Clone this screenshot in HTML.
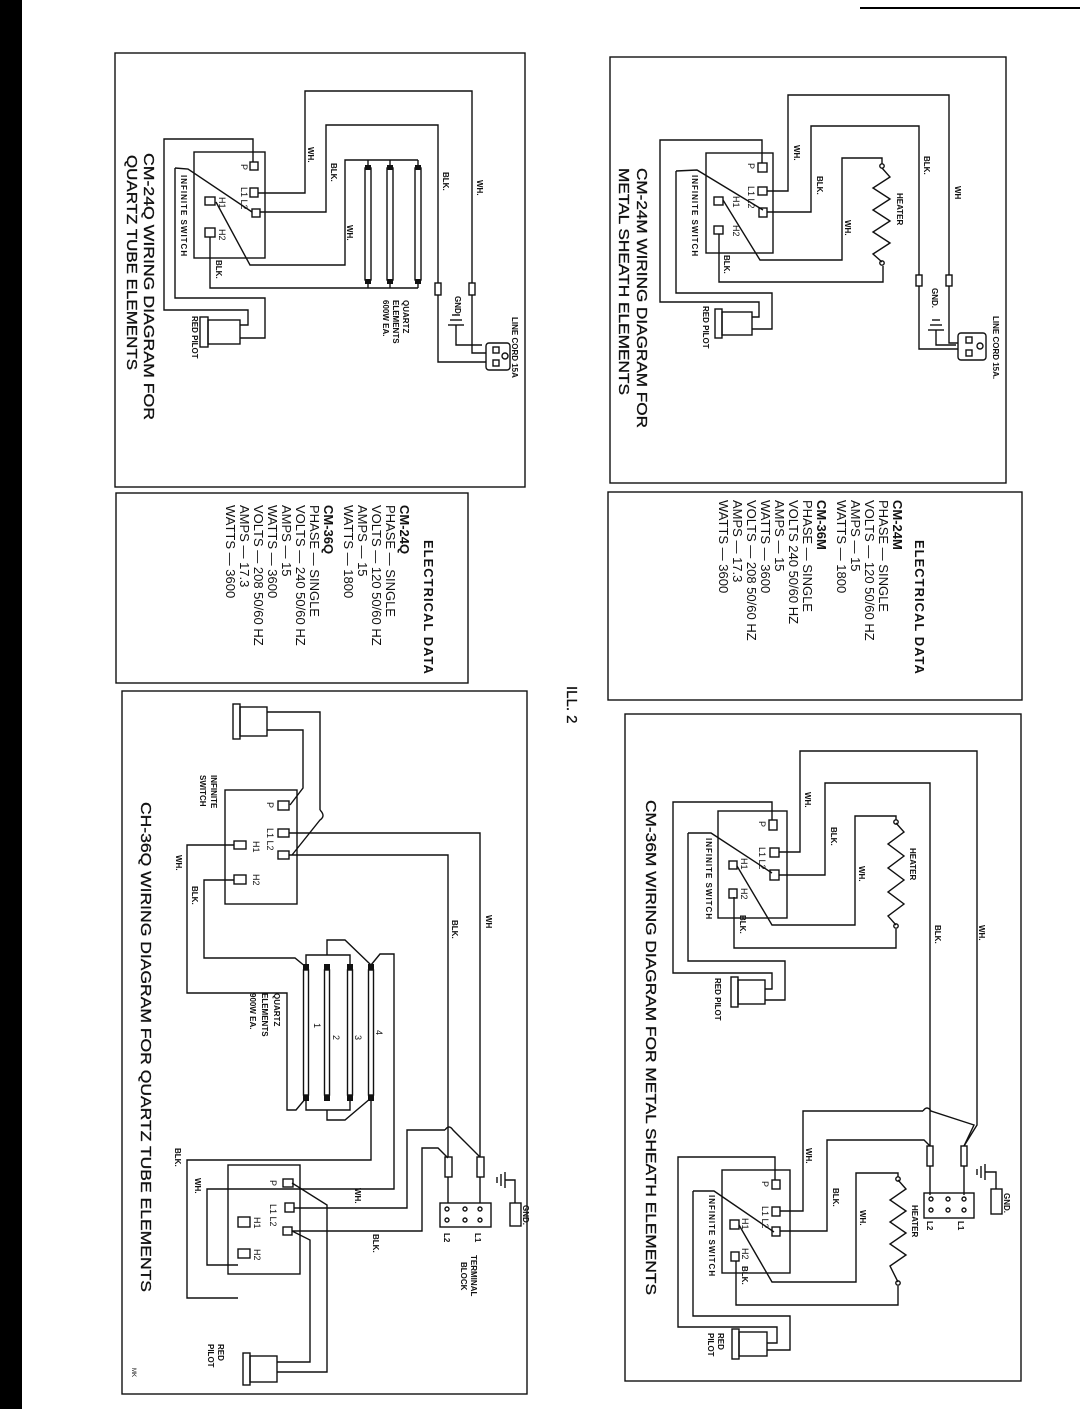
<!DOCTYPE html>
<html><head><meta charset="utf-8"><style>
html,body{margin:0;padding:0;background:#fff}
svg{display:block}
text{font-family:"Liberation Sans",sans-serif;fill:#111}
.s{font-size:8px;font-weight:bold}
.m{font-size:9px}
.d{font-size:13px}
.b{font-size:13px;font-weight:bold}
.t{font-size:15px;stroke:#111;stroke-width:0.3}
</style></head><body>
<svg width="1080" height="1409" viewBox="0 0 1080 1409" xmlns="http://www.w3.org/2000/svg">
<rect x="0" y="0" width="22" height="1409" fill="#000"/>
<line x1="860" y1="8" x2="1080" y2="8" stroke="#000" stroke-width="2"/>
<g fill="none" stroke="#111" stroke-width="1.4">
<rect x="115" y="53" width="410" height="434"/>
<rect x="610" y="57" width="396" height="426"/>
<rect x="116" y="493" width="352" height="190"/>
<rect x="608" y="492" width="414" height="208"/>
<rect x="122" y="691" width="405" height="703"/>
<rect x="625" y="714" width="396" height="667"/>

<rect x="194" y="152" width="71" height="106"/>
<rect x="250" y="162" width="8" height="8"/><rect x="250" y="188" width="8" height="9"/><rect x="252" y="209" width="8" height="8"/>
<rect x="205" y="197" width="10" height="8"/><rect x="205" y="228" width="10" height="9"/>
<polyline points="258,193 305,193 305,91 472,91 472,283"/><rect x="469" y="283" width="6" height="12"/><polyline points="472,295 472,353 486,353"/>
<polyline points="260,212 326,212 326,125 438,125 438,283"/><rect x="435" y="283" width="6" height="12"/><polyline points="438,295 438,362 486,362"/>
<polyline points="175,168 188,169 252,212"/>
<polyline points="175,168 175,298 265,298 265,338 240,338"/>
<polyline points="253,162 253,139 164,139 164,310 248,310 248,325 240,325"/>
<polyline points="216,202 250,265 345,265 345,160 418,160"/>
<polyline points="210,237 210,288 418,288"/>
<line x1="368" y1="160" x2="368" y2="288"/><line x1="390" y1="160" x2="390" y2="288"/><line x1="418" y1="160" x2="418" y2="288"/>
<rect x="365" y="168" width="6" height="112" fill="#fff"/><rect x="387" y="168" width="6" height="112" fill="#fff"/><rect x="415" y="168" width="6" height="112" fill="#fff"/>
<polyline points="456,325 456,345 482,345"/>
<line x1="448" y1="325" x2="464" y2="325"/><line x1="450" y1="320" x2="462" y2="320"/><line x1="452" y1="315" x2="460" y2="315"/>
<rect x="486" y="343" width="24" height="27" rx="3"/><rect x="493" y="347" width="6" height="6"/><rect x="493" y="360" width="6" height="6"/><circle cx="505" cy="356" r="3"/>
<rect x="208" y="320" width="32" height="24"/><rect x="200" y="317" width="8" height="30"/>

<rect x="706" y="153" width="67" height="100"/>
<rect x="758" y="163" width="9" height="9"/><rect x="758" y="187" width="9" height="8"/><rect x="759" y="208" width="8" height="9"/>
<rect x="714" y="197" width="9" height="8"/><rect x="714" y="226" width="9" height="8"/>
<polyline points="767,191 788,191 788,95 949,95 949,275"/><rect x="946" y="275" width="6" height="11"/><polyline points="949,286 949,343 958,343"/>
<polyline points="767,212 811,212 811,126 919,126 919,275"/><rect x="916" y="275" width="6" height="11"/><polyline points="919,286 919,349 958,349"/>
<polyline points="882,168 890,177 873,188 890,199 873,210 890,221 873,232 890,243 873,254 882,262"/>
<circle cx="882" cy="166" r="2.2"/><circle cx="882" cy="263" r="2.2"/>
<polyline points="723,200 760,260 842,260 842,158 882,158 882,164"/>
<polyline points="719,234 719,282 883,282 883,266"/>
<polyline points="676,171 697,170 763,210"/>
<polyline points="676,171 676,293 772,293 772,329 752,329"/>
<polyline points="762,163 762,140 660,140 660,302 759,302 759,317 752,317"/>
<rect x="722" y="312" width="30" height="23"/><rect x="715" y="309" width="7" height="29"/>
<polyline points="936,330 936,345 956,345"/>
<line x1="928" y1="330" x2="944" y2="330"/><line x1="930" y1="325" x2="942" y2="325"/><line x1="932" y1="320" x2="940" y2="320"/>
<rect x="958" y="333" width="28" height="27" rx="3"/><rect x="966" y="337" width="6" height="6"/><rect x="966" y="350" width="6" height="6"/><circle cx="980" cy="346" r="3"/>

<rect x="718" y="811" width="69" height="107"/>
<rect x="769" y="820" width="8" height="10"/><rect x="770" y="848" width="9" height="9"/><rect x="770" y="870" width="9" height="10"/>
<rect x="729" y="861" width="8" height="8"/><rect x="729" y="889" width="8" height="9"/>
<polyline points="779,852 800,852 800,751 977,751 977,1125 964,1146"/>
<polyline points="779,875 825,875 825,783 930,783 930,1146"/>
<rect x="961" y="1146" width="6" height="20"/><rect x="927" y="1146" width="6" height="20"/>
<line x1="964" y1="1166" x2="964" y2="1195"/><line x1="930" y1="1166" x2="930" y2="1195"/>
<polyline points="896,823 904,832 888,844 904,856 888,868 904,880 888,892 904,904 888,916 896,925"/>
<circle cx="896" cy="822" r="2.2"/><circle cx="896" cy="926" r="2.2"/>
<polyline points="737,866 772,925 855,925 855,816 896,816 896,820"/>
<polyline points="734,897 734,948 896,948 896,929"/>
<polyline points="688,833 711,833 772,873"/>
<polyline points="688,833 688,961 785,961 785,1000 765,1000"/>
<polyline points="772,820 772,802 673,802 673,973 772,973 772,989 765,989"/>
<rect x="738" y="980" width="27" height="24"/><rect x="731" y="977" width="7" height="30"/>
<rect x="722" y="1170" width="68" height="103"/>
<rect x="772" y="1180" width="8" height="9"/><rect x="772" y="1207" width="8" height="9"/><rect x="772" y="1227" width="8" height="9"/>
<rect x="730" y="1220" width="9" height="9"/><rect x="731" y="1252" width="8" height="9"/>
<polyline points="780,1211 803,1211 803,1111 923,1111"/><path d="M923,1111 q4,-6 8,0 L974,1125 964,1146"/>
<polyline points="780,1231 827,1231 827,1140 924,1140 930,1146"/>
<polyline points="898,1180 906,1189 890,1200 906,1211 890,1222 906,1233 890,1244 906,1255 890,1266 898,1282"/>
<circle cx="898" cy="1179" r="2.2"/><circle cx="898" cy="1283" r="2.2"/>
<polyline points="739,1225 772,1282 856,1282 856,1173 898,1173 898,1177"/>
<polyline points="736,1261 736,1305 898,1305 898,1286"/>
<polyline points="693,1191 714,1191 774,1232"/>
<polyline points="693,1191 693,1316 790,1316 790,1350 767,1350"/>
<polyline points="775,1180 775,1157 678,1157 678,1327 777,1327 777,1343 767,1343"/>
<rect x="739" y="1332" width="28" height="24"/><rect x="732" y="1329" width="7" height="30"/>
<rect x="924" y="1193" width="50" height="25"/>
<circle cx="931" cy="1199" r="2"/><circle cx="948" cy="1199" r="2"/><circle cx="964" cy="1199" r="2"/>
<circle cx="931" cy="1210" r="2"/><circle cx="948" cy="1210" r="2"/><circle cx="964" cy="1210" r="2"/>
<rect x="991" y="1189" width="11" height="25"/>
<polyline points="996,1189 996,1172 985,1172"/>
<line x1="985" y1="1164" x2="985" y2="1180"/><line x1="981" y1="1166" x2="981" y2="1178"/><line x1="977" y1="1169" x2="977" y2="1175"/>

<rect x="225" y="790" width="72" height="114"/>
<rect x="278" y="801" width="11" height="9"/><rect x="278" y="829" width="11" height="8"/><rect x="278" y="851" width="11" height="8"/>
<rect x="234" y="841" width="12" height="8"/><rect x="234" y="875" width="12" height="9"/>
<rect x="240" y="707" width="27" height="29"/><rect x="233" y="704" width="7" height="35"/>
<polyline points="267,712 320,712 320,810"/><path d="M320,810 q6,6 0,10 L292,855"/>
<polyline points="267,730 303,730 303,788 290,805"/>
<polyline points="289,833 480,833 480,1157"/>
<polyline points="289,855 448,855 448,1157"/>
<rect x="477" y="1157" width="7" height="20"/><rect x="445" y="1157" width="7" height="20"/>
<line x1="480" y1="1177" x2="480" y2="1203"/><line x1="448" y1="1177" x2="448" y2="1203"/>
<polyline points="234,845 187,845 187,993 287,993 287,1110 296,1110 306,1098"/>
<polyline points="234,880 204,880 204,958 295,958 306,967"/>
<line x1="306" y1="967" x2="306" y2="1098"/><line x1="327" y1="967" x2="327" y2="1098"/><line x1="350" y1="967" x2="350" y2="1098"/><line x1="371" y1="967" x2="371" y2="1098"/>
<rect x="303.5" y="970" width="5" height="125" fill="#fff"/><rect x="324.5" y="970" width="5" height="125" fill="#fff"/><rect x="347.5" y="970" width="5" height="125" fill="#fff"/><rect x="368.5" y="970" width="5" height="125" fill="#fff"/>
<polyline points="306,967 306,955 350,955 350,967"/><polyline points="327,955 327,940 345,940 371,965"/>
<polyline points="371,965 380,954 394,954 394,1189 207,1189 207,1265 238,1265"/>
<polyline points="306,1098 306,1110 350,1110 350,1098"/><polyline points="327,1110 327,1120 345,1120 371,1098"/>
<polyline points="371,1098 371,1160 187,1160 187,1298 238,1298"/>
<rect x="228" y="1165" width="72" height="109"/>
<rect x="283" y="1179" width="10" height="8"/><rect x="285" y="1203" width="9" height="9"/><rect x="283" y="1227" width="9" height="8"/>
<rect x="238" y="1217" width="12" height="10"/><rect x="238" y="1249" width="12" height="9"/>
<polyline points="294,1208 407,1208 407,1130 445,1130"/><path d="M445,1130 q4,-6 8,0 L480,1157"/>
<polyline points="292,1231 422,1231 422,1148 438,1148 448,1158"/>
<polyline points="292,1183 327,1205 327,1372 277,1372"/>
<polyline points="292,1231 310,1240 310,1362 277,1362"/>
<rect x="250" y="1356" width="27" height="26"/><rect x="243" y="1353" width="7" height="32"/>
<rect x="440" y="1203" width="51" height="24"/>
<circle cx="447" cy="1209" r="2"/><circle cx="465" cy="1209" r="2"/><circle cx="480" cy="1209" r="2"/>
<circle cx="447" cy="1220" r="2"/><circle cx="465" cy="1220" r="2"/><circle cx="480" cy="1220" r="2"/>
<rect x="510" y="1203" width="11" height="23"/>
<polyline points="515,1203 515,1180 505,1180"/>
<line x1="505" y1="1172" x2="505" y2="1188"/><line x1="501" y1="1174" x2="501" y2="1186"/><line x1="497" y1="1177" x2="497" y2="1183"/>
</g>
<g fill="#111">
<rect x="303" y="964" width="6" height="6"/><rect x="324" y="964" width="6" height="6"/><rect x="347" y="964" width="6" height="6"/><rect x="368" y="964" width="6" height="6"/>
<rect x="303" y="1095" width="6" height="6"/><rect x="324" y="1095" width="6" height="6"/><rect x="347" y="1095" width="6" height="6"/><rect x="368" y="1095" width="6" height="6"/>
<rect x="365" y="165" width="6" height="5"/><rect x="387" y="165" width="6" height="5"/><rect x="415" y="165" width="6" height="5"/>
<rect x="365" y="279" width="6" height="5"/><rect x="387" y="279" width="6" height="5"/><rect x="415" y="279" width="6" height="5"/>
</g>

<g>
<text class="t" transform="translate(144,153) rotate(90)" textLength="267" lengthAdjust="spacingAndGlyphs">CM-24Q WIRING DIAGRAM FOR</text>
<text class="t" transform="translate(127,155) rotate(90)" textLength="215" lengthAdjust="spacingAndGlyphs">QUARTZ TUBE ELEMENTS</text>
<text class="s" transform="translate(308,147) rotate(90)">WH.</text>
<text class="s" transform="translate(331,163) rotate(90)">BLK.</text>
<text class="s" transform="translate(347,225) rotate(90)">WH.</text>
<text class="s" transform="translate(443,172) rotate(90)">BLK.</text>
<text class="s" transform="translate(477,180) rotate(90)">WH.</text>
<text class="s" transform="translate(216,260) rotate(90)">BLK.</text>
<text class="s" transform="translate(181,175) rotate(90)" letter-spacing="1">INFINITE SWITCH</text>
<text class="m" transform="translate(241,164) rotate(90)">P</text>
<text class="m" transform="translate(241,187) rotate(90)">L1 L2</text>
<text class="m" transform="translate(219,197) rotate(90)">H1</text>
<text class="m" transform="translate(219,229) rotate(90)">H2</text>
<text class="s" transform="translate(403,300) rotate(90)">QUARTZ</text>
<text class="s" transform="translate(393,300) rotate(90)">ELEMENTS</text>
<text class="s" transform="translate(383,300) rotate(90)">600W EA.</text>
<text class="s" transform="translate(512,317) rotate(90)">LINE CORD 15A</text>
<text class="s" transform="translate(455,296) rotate(90)">GND.</text>
<text class="s" transform="translate(192,316) rotate(90)">RED PILOT</text>
<text class="t" transform="translate(637,168) rotate(90)" textLength="260" lengthAdjust="spacingAndGlyphs">CM-24M WIRING DIAGRAM FOR</text>
<text class="t" transform="translate(619,168) rotate(90)" textLength="227" lengthAdjust="spacingAndGlyphs">METAL SHEATH ELEMENTS</text>
<text class="s" transform="translate(794,145) rotate(90)">WH.</text>
<text class="s" transform="translate(817,176) rotate(90)">BLK.</text>
<text class="s" transform="translate(845,220) rotate(90)">WH.</text>
<text class="s" transform="translate(897,193) rotate(90)">HEATER</text>
<text class="s" transform="translate(924,156) rotate(90)">BLK.</text>
<text class="s" transform="translate(955,186) rotate(90)">WH</text>
<text class="s" transform="translate(993,316) rotate(90)">LINE CORD 15A.</text>
<text class="s" transform="translate(932,288) rotate(90)">GND.</text>
<text class="s" transform="translate(703,306) rotate(90)">RED PILOT</text>
<text class="s" transform="translate(692,175) rotate(90)" letter-spacing="1">INFINITE SWITCH</text>
<text class="s" transform="translate(724,255) rotate(90)">BLK.</text>
<text class="m" transform="translate(748,163) rotate(90)">P</text>
<text class="m" transform="translate(748,186) rotate(90)">L1 L2</text>
<text class="m" transform="translate(733,196) rotate(90)">H1</text>
<text class="m" transform="translate(733,225) rotate(90)">H2</text>
<text class="b" transform="translate(424,540) rotate(90)" letter-spacing="1">ELECTRICAL DATA</text>
<text class="b" transform="translate(400,505) rotate(90)">CM-24Q</text>
<text class="d" transform="translate(386,505) rotate(90)">PHASE — SINGLE</text>
<text class="d" transform="translate(372,505) rotate(90)">VOLTS — 120 50/60 HZ</text>
<text class="d" transform="translate(358,505) rotate(90)">AMPS — 15</text>
<text class="d" transform="translate(344,505) rotate(90)">WATTS — 1800</text>
<text class="b" transform="translate(324,505) rotate(90)">CM-36Q</text>
<text class="d" transform="translate(310,505) rotate(90)">PHASE — SINGLE</text>
<text class="d" transform="translate(296,505) rotate(90)">VOLTS — 240 50/60 HZ</text>
<text class="d" transform="translate(282,505) rotate(90)">AMPS — 15</text>
<text class="d" transform="translate(268,505) rotate(90)">WATTS — 3600</text>
<text class="d" transform="translate(254,505) rotate(90)">VOLTS — 208 50/60 HZ</text>
<text class="d" transform="translate(240,505) rotate(90)">AMPS — 17.3</text>
<text class="d" transform="translate(226,505) rotate(90)">WATTS — 3600</text>
<text class="b" transform="translate(915,540) rotate(90)" letter-spacing="1">ELECTRICAL DATA</text>
<text class="b" transform="translate(893,500) rotate(90)">CM-24M</text>
<text class="d" transform="translate(879,500) rotate(90)">PHASE — SINGLE</text>
<text class="d" transform="translate(865,500) rotate(90)">VOLTS — 120 50/60 HZ</text>
<text class="d" transform="translate(851,500) rotate(90)">AMPS — 15</text>
<text class="d" transform="translate(837,500) rotate(90)">WATTS — 1800</text>
<text class="b" transform="translate(817,500) rotate(90)">CM-36M</text>
<text class="d" transform="translate(803,500) rotate(90)">PHASE — SINGLE</text>
<text class="d" transform="translate(789,500) rotate(90)">VOLTS 240 50/60 HZ</text>
<text class="d" transform="translate(775,500) rotate(90)">AMPS — 15</text>
<text class="d" transform="translate(761,500) rotate(90)">WATTS — 3600</text>
<text class="d" transform="translate(747,500) rotate(90)">VOLTS — 208 50/60 HZ</text>
<text class="d" transform="translate(733,500) rotate(90)">AMPS — 17.3</text>
<text class="d" transform="translate(719,500) rotate(90)">WATTS — 3600</text>
<text class="t" transform="translate(567,686) rotate(90)">ILL. 2</text>
<text class="t" transform="translate(646,800) rotate(90)" textLength="495" lengthAdjust="spacingAndGlyphs">CM-36M WIRING DIAGRAM FOR METAL SHEATH ELEMENTS</text>
<text class="s" transform="translate(805,792) rotate(90)">WH.</text>
<text class="s" transform="translate(831,827) rotate(90)">BLK.</text>
<text class="s" transform="translate(859,866) rotate(90)">WH.</text>
<text class="s" transform="translate(910,848) rotate(90)">HEATER</text>
<text class="s" transform="translate(935,925) rotate(90)">BLK.</text>
<text class="s" transform="translate(979,925) rotate(90)">WH.</text>
<text class="s" transform="translate(706,838) rotate(90)" letter-spacing="1">INFINITE SWITCH</text>
<text class="s" transform="translate(715,978) rotate(90)">RED PILOT</text>
<text class="m" transform="translate(759,821) rotate(90)">P</text>
<text class="m" transform="translate(759,847) rotate(90)">L1 L2</text>
<text class="m" transform="translate(741,858) rotate(90)">H1</text>
<text class="m" transform="translate(741,888) rotate(90)">H2</text>
<text class="s" transform="translate(740,915) rotate(90)">BLK.</text>
<text class="s" transform="translate(806,1148) rotate(90)">WH.</text>
<text class="s" transform="translate(833,1188) rotate(90)">BLK.</text>
<text class="s" transform="translate(860,1210) rotate(90)">WH.</text>
<text class="s" transform="translate(912,1205) rotate(90)">HEATER</text>
<text class="s" transform="translate(927,1221) rotate(90)">L2</text>
<text class="s" transform="translate(958,1221) rotate(90)">L1</text>
<text class="s" transform="translate(1004,1193) rotate(90)">GND.</text>
<text class="s" transform="translate(709,1195) rotate(90)" letter-spacing="1">INFINITE SWITCH</text>
<text class="s" transform="translate(718,1333) rotate(90)">RED</text>
<text class="s" transform="translate(708,1333) rotate(90)">PILOT</text>
<text class="m" transform="translate(762,1181) rotate(90)">P</text>
<text class="m" transform="translate(762,1206) rotate(90)">L1 L2</text>
<text class="m" transform="translate(742,1218) rotate(90)">H1</text>
<text class="m" transform="translate(742,1248) rotate(90)">H2</text>
<text class="s" transform="translate(742,1266) rotate(90)">BLK.</text>
<text class="t" transform="translate(141,802) rotate(90)" textLength="490" lengthAdjust="spacingAndGlyphs">CH-36Q WIRING DIAGRAM FOR QUARTZ TUBE ELEMENTS</text>
<text class="s" transform="translate(211,775) rotate(90)">INFINITE</text>
<text class="s" transform="translate(200,775) rotate(90)">SWITCH</text>
<text class="m" transform="translate(267,802) rotate(90)">P</text>
<text class="m" transform="translate(267,828) rotate(90)">L1 L2</text>
<text class="m" transform="translate(253,841) rotate(90)">H1</text>
<text class="m" transform="translate(253,874) rotate(90)">H2</text>
<text class="s" transform="translate(176,855) rotate(90)">WH.</text>
<text class="s" transform="translate(192,886) rotate(90)">BLK.</text>
<text class="s" transform="translate(274,993) rotate(90)">QUARTZ</text>
<text class="s" transform="translate(262,993) rotate(90)">ELEMENTS</text>
<text class="s" transform="translate(250,993) rotate(90)">900W EA.</text>
<text class="m" transform="translate(314,1023) rotate(90)">1</text>
<text class="m" transform="translate(333,1035) rotate(90)">2</text>
<text class="m" transform="translate(355,1035) rotate(90)">3</text>
<text class="m" transform="translate(376,1030) rotate(90)">4</text>
<text class="s" transform="translate(452,920) rotate(90)">BLK.</text>
<text class="s" transform="translate(486,915) rotate(90)">WH</text>
<text class="s" transform="translate(355,1188) rotate(90)">WH.</text>
<text class="s" transform="translate(373,1234) rotate(90)">BLK.</text>
<text class="s" transform="translate(175,1148) rotate(90)">BLK.</text>
<text class="s" transform="translate(195,1178) rotate(90)">WH.</text>
<text class="m" transform="translate(270,1180) rotate(90)">P</text>
<text class="m" transform="translate(270,1204) rotate(90)">L1 L2</text>
<text class="m" transform="translate(254,1217) rotate(90)">H1</text>
<text class="m" transform="translate(254,1249) rotate(90)">H2</text>
<text class="s" transform="translate(523,1205) rotate(90)">GND.</text>
<text class="s" transform="translate(475,1233) rotate(90)">L1</text>
<text class="s" transform="translate(444,1233) rotate(90)">L2</text>
<text class="s" transform="translate(471,1255) rotate(90)">TERMINAL</text>
<text class="s" transform="translate(461,1262) rotate(90)">BLOCK</text>
<text class="s" transform="translate(218,1344) rotate(90)">RED</text>
<text class="s" transform="translate(208,1344) rotate(90)">PILOT</text>
<text style="font-size:6px" transform="translate(132,1368) rotate(90)">MK</text>
</g>
</svg>
</body></html>
